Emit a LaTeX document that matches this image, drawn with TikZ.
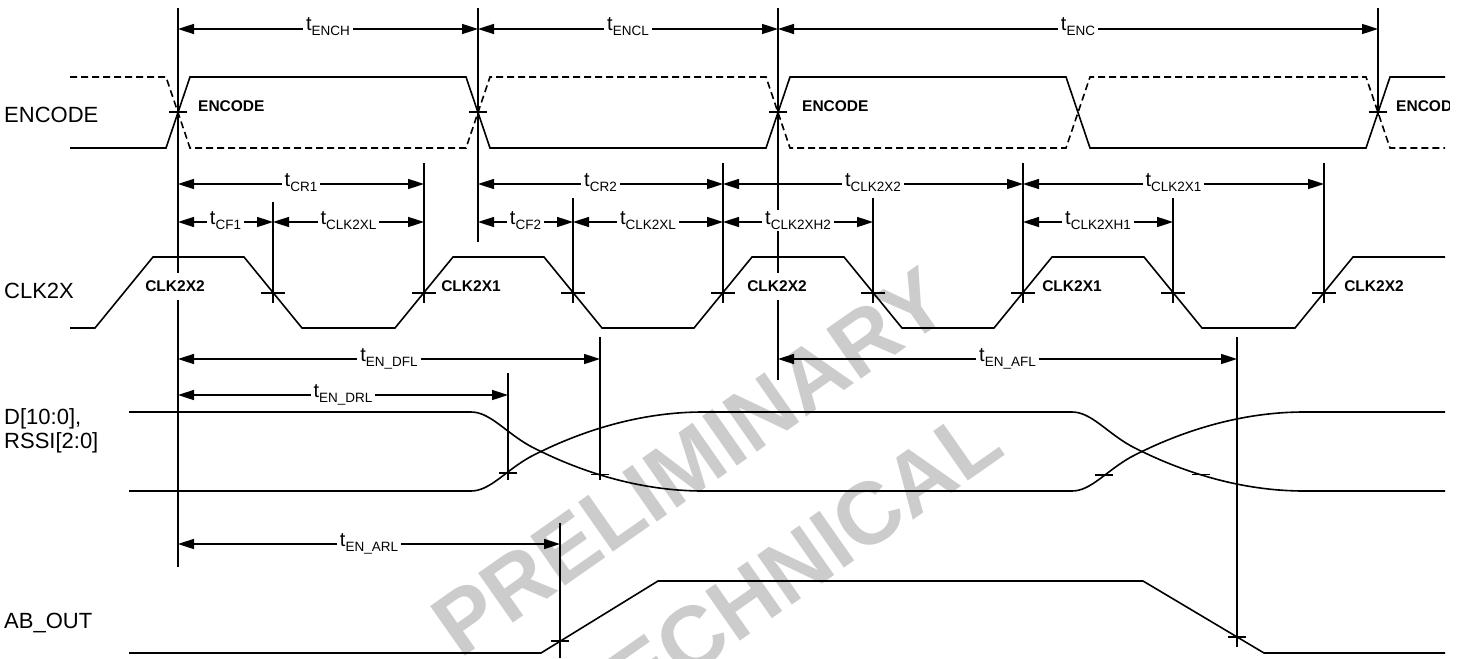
\documentclass[tikz,border=0pt]{standalone}
\usepackage{fontspec}
\setmainfont{Liberation Sans}
\usetikzlibrary{arrows.meta}
\newcommand\tsub[1]{{\fontsize{20}{20}\selectfont t}\raisebox{-5pt}{\fontsize{13.5}{13.5}\selectfont #1}}
\begin{document}
\begin{tikzpicture}[x=1pt,y=-1pt,
  sig/.style={line width=1.6pt, line join=miter},
  dsig/.style={sig, dash pattern=on 7pt off 4pt},
  vline/.style={line width=2.2pt},
  cline/.style={line width=1.7pt},
  tickmark/.style={line width=1.4pt},
  dim/.style={line width=1.6pt, {Triangle[length=16pt,width=10pt]}-{Triangle[length=16pt,width=10pt]}},
  tlab/.style={fill=white, inner xsep=3pt, inner ysep=1.5pt, anchor=base},
  blab/.style={font=\fontsize{15.5}{15.5}\selectfont\bfseries, inner sep=0pt},
  signame/.style={font=\fontsize{22}{24}\selectfont, anchor=base west, align=left, inner sep=0pt},
  wmark/.style={rotate=35, font=\fontsize{88}{88}\selectfont\bfseries, text=black!20, inner sep=0pt},
]
\useasboundingbox (0,0) rectangle (1463,658);
\clip (0,0) rectangle (1463,658);

% watermark
\node[wmark] (wm1) at (690,462) {PRELIMINARY};
\node[wmark] (wm2) at (782,575) {TECHNICAL};

% signal names
\node[signame] (nENC) at (4,122) {ENCODE};
\node[signame] (nCLK) at (4,298) {CLK2X};
\node[signame] (nD) at (4,448) {D[10:0],\\RSSI[2:0]};
\node[signame] (nAB) at (4,628) {AB\_OUT};

% ENCODE
\draw[sig] (70,148)--(166,148)--(190,77)--(466,77)--(490,148)--(766,148)--(790,77)--(1066,77)--(1090,148)--(1366,148)--(1390,77)--(1445,77);
\draw[dsig] (70,77)--(166,77)--(190,148)--(466,148)--(490,77)--(766,77)--(790,148)--(1066,148)--(1090,77)--(1366,77)--(1390,148)--(1445,148);

% CLK2X
\draw[sig] (70,328) -- (95,328) -- (153,257) -- (244,257) -- (302,328) -- (395,328) -- (453,257) -- (544,257) -- (602,328) -- (694,328) -- (752,257) -- (844,257) -- (902,328) -- (994,328) -- (1052,257) -- (1144,257) -- (1202,328) -- (1295,328) -- (1353,257) -- (1445,257);

% D / RSSI
\draw[sig] (129,412) -- (471,412) .. controls (490,412) and (505,432) .. (530,446) .. controls (580,472) and (640,491) .. (703,491) -- (1072,491) .. controls (1091,491) and (1106,471) .. (1131,457) .. controls (1181,431) and (1241,412) .. (1304,412) -- (1445,412);
\draw[sig] (129,491) -- (471,491) .. controls (490,491) and (505,471) .. (530,457) .. controls (580,431) and (640,412) .. (703,412) -- (1072,412) .. controls (1091,412) and (1106,432) .. (1131,446) .. controls (1181,472) and (1241,491) .. (1304,491) -- (1445,491);

% AB_OUT
\draw[sig] (129,653) -- (541,653) -- (658,581) -- (1143,581) -- (1264,653) -- (1445,653);

% vertical reference lines
\coordinate (v1t) at (178,8);   \coordinate (v1b) at (178,567);
\coordinate (v2t) at (478,8);   \coordinate (v2b) at (478,242);
\coordinate (v3t) at (778,8);   \coordinate (v3b) at (778,380);
\coordinate (v4t) at (1378,8);  \coordinate (v4b) at (1378,115);
\draw[vline] (v1t) -- (v1b);
\draw[vline] (v2t) -- (v2b);
\draw[vline] (v3t) -- (v3b);
\draw[vline] (v4t) -- (v4b);
\foreach \x/\t in {273/202,424/163,573/198,723/163,873/198,1023/163,1173/198,1324/163}
  \draw[cline] (\x,\t) -- (\x,303);
\draw[vline] (600,337) -- (600,480);
\draw[vline] (508,373) -- (508,480);
\draw[vline] (1237,337) -- (1237,647);
\draw[vline] (560,523) -- (560,658);

% tick marks
\foreach \x in {178,478,778,1378}
  \draw[tickmark] (\x-9,112) -- (\x+9,112);
\foreach \x in {273,424,573,723,873,1023,1173,1324}
  \draw[tickmark] (\x-12,293) -- (\x+12,293);
\foreach \x/\y in {508/473,600/474.5,1104/475,1201/474.5,560/641,1237/637}
  \draw[tickmark] (\x-9,\y) -- (\x+9,\y);

% dimension arrows
\draw[dim] (178,29) -- (478,29);
\draw[dim] (478,29) -- (778,29);
\draw[dim] (778,29) -- (1378,29);
\draw[dim] (178,184) -- (424,184);
\draw[dim] (478,184) -- (723,184);
\draw[dim] (723,184) -- (1023,184);
\draw[dim] (1023,184) -- (1324,184);
\draw[dim] (178,222) -- (273,222);
\draw[dim] (273,222) -- (424,222);
\draw[dim] (478,222) -- (573,222);
\draw[dim] (573,222) -- (723,222);
\draw[dim] (723,222) -- (873,222);
\draw[dim] (1023,222) -- (1173,222);
\draw[dim] (178,359) -- (600,359);
\draw[dim] (778,359) -- (1237,359);
\draw[dim] (178,395) -- (508,395);
\draw[dim] (178,544) -- (560,544);

% dimension labels
\node[tlab] (lENCH) at (328,31) {\tsub{ENCH}};
\node[tlab] (lENCL) at (628,31) {\tsub{ENCL}};
\node[tlab] (lENC) at (1078,31) {\tsub{ENC}};
\node[tlab] (lCR1) at (301,186) {\tsub{CR1}};
\node[tlab] (lCR2) at (600.5,186) {\tsub{CR2}};
\node[tlab] (lCX2) at (873,186) {\tsub{CLK2X2}};
\node[tlab] (lCX1) at (1173.5,186) {\tsub{CLK2X1}};
\node[tlab] (lCF1) at (225.5,224) {\tsub{CF1}};
\node[tlab] (lCXL1) at (348.5,224) {\tsub{CLK2XL}};
\node[tlab] (lCF2) at (525.5,224) {\tsub{CF2}};
\node[tlab] (lCXL2) at (648,224) {\tsub{CLK2XL}};
\node[tlab] (lCXH2) at (798,224) {\tsub{CLK2XH2}};
\node[tlab] (lCXH1) at (1098,224) {\tsub{CLK2XH1}};
\node[tlab] (lDFL) at (389,361) {\tsub{EN\_DFL}};
\node[tlab] (lAFL) at (1007.5,361) {\tsub{EN\_AFL}};
\node[tlab] (lDRL) at (343,397) {\tsub{EN\_DRL}};
\node[tlab] (lARL) at (369,546) {\tsub{EN\_ARL}};

% bold edge labels
\node[blab, anchor=base west] (bE1) at (198,111) {ENCODE};
\node[blab, anchor=base west] (bE2) at (802,112) {ENCODE};
\begin{scope}
  \clip (0,0) rectangle (1449,658);
  \node[blab, anchor=base west] (bE3) at (1396,112) {ENCODE};
\end{scope}
\node[blab, fill=white, inner xsep=2pt, inner ysep=8.5pt] (bC1) at (175,286.5) {CLK2X2};
\node[blab] (bC2) at (471,286.5) {CLK2X1};
\node[blab, fill=white, inner xsep=2pt, inner ysep=8.5pt] (bC3) at (777,286.5) {CLK2X2};
\node[blab] (bC4) at (1072,286.5) {CLK2X1};
\node[blab] (bC5) at (1374,286.5) {CLK2X2};
\end{tikzpicture}
\end{document}
